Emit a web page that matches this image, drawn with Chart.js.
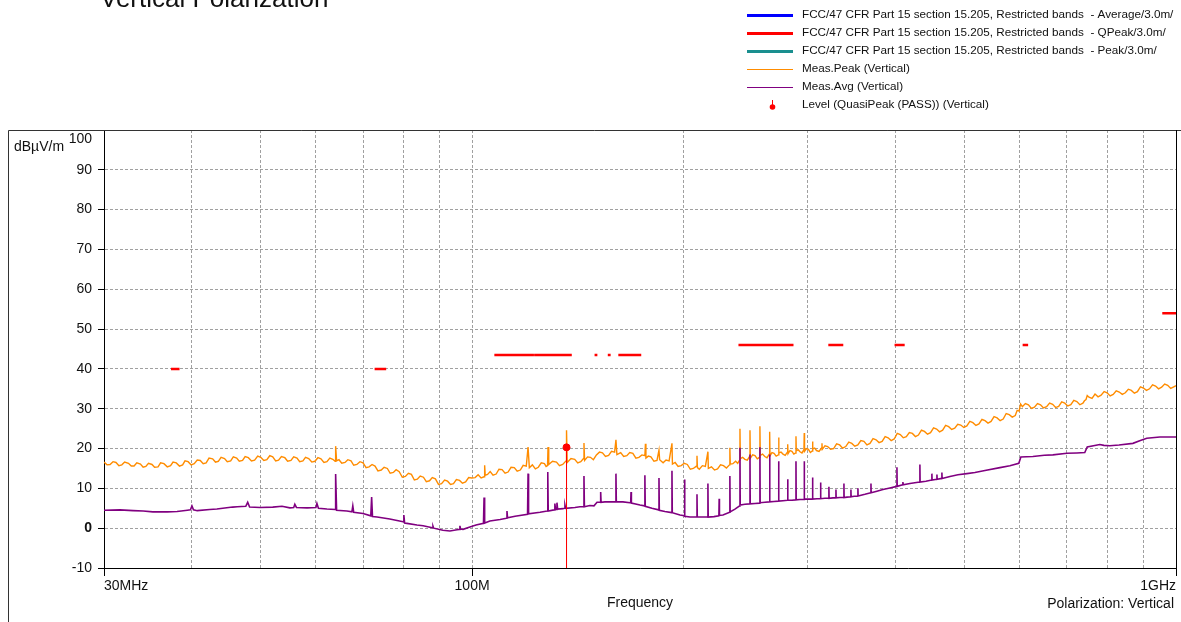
<html>

<head>
  <meta charset="utf-8">
  <style>
    html,
    body {
      margin: 0;
      padding: 0;
      background: #fff;
    }

    #wrap {
      position: relative;
      width: 1181px;
      height: 622px;
    }
  </style>
</head>

<body>
  <div id="wrap"><canvas id="emc"></canvas></div>
  <script src="https://cdn.jsdelivr.net/npm/chart.js@4.4.0/dist/chart.umd.min.js"></script>
  <script type="text/javascript">
    // FCC 15.205 restricted bands inside 30 MHz - 1 GHz, QP limit @3m
    const bandStart = [37.5, 73, 74.8, 108, 123, 149.9, 156.52475, 156.7, 162.0125, 167.72, 240, 322, 399.9, 608, 960];
    const bandEnd = [38.25, 74.6, 75.2, 121.94, 138, 150.05, 156.52525, 156.9, 167.17, 173.2, 285, 335.4, 410, 614, 1000];
    const bandLimit = [40, 40, 40, 43.5, 43.5, 43.5, 43.5, 43.5, 43.5, 43.5, 46, 46, 46, 46, 54];

    const xGrid = [30, 40, 50, 60, 70, 80, 90, 100, 200, 300, 400, 500, 600, 700, 800, 900, 1000];
    const xLabels = { 30: '30MHz', 100: '100M', 1000: '1GHz' };
    const yMin = -10, yMax = 100, yStep = 10;

    // [MHz, dBµV/m]
    const peakTrace = [
      [30, 16.6], [30.3, 15.9], [30.6, 16.0], [30.9, 16.7], [31.2, 16.5], [31.5, 15.7], [31.8, 15.9], [32.1, 16.6],
      [32.5, 16.3], [32.8, 15.6], [33.1, 15.6], [33.4, 16.4], [33.8, 16.1], [34.1, 15.3], [34.4, 15.5], [34.7, 16.3],
      [35.1, 16.0], [35.4, 15.3], [35.8, 15.4], [36.1, 16.4], [36.5, 16.2], [36.9, 15.4], [37.3, 15.7], [37.6, 16.6],
      [38.0, 16.4], [38.4, 15.6], [38.8, 15.9], [39.1, 16.9], [39.5, 16.7], [39.9, 15.9], [40.3, 16.2], [40.7, 17.1],
      [41.1, 17.0], [41.5, 16.2], [41.9, 16.4], [42.3, 17.6], [42.8, 17.4], [43.2, 16.6], [43.6, 16.8], [44.0, 17.8],
      [44.5, 17.5], [44.9, 16.7], [45.4, 16.9], [45.8, 17.9], [46.3, 17.6], [46.7, 16.8], [47.2, 17.0], [47.6, 18.0],
      [48.1, 17.7], [48.6, 16.9], [49.1, 17.1], [49.6, 18.1], [50.1, 17.8], [50.6, 17.0], [51.1, 17.2], [51.6, 18.2],
      [52.1, 17.9], [52.6, 16.9], [53.1, 17.1], [53.6, 18.0], [54.2, 17.7], [54.7, 16.8], [55.3, 17.0], [55.8, 17.9],
      [56.4, 17.6], [56.9, 16.7], [57.5, 16.9], [58.0, 17.8], [58.6, 17.5], [59.2, 16.6], [59.8, 16.8], [60.4, 17.7],
      [61.0, 17.4], [61.6, 16.5], [62.2, 16.7], [62.8, 17.6], [63.4, 17.3], [63.9, 16.8], [64.0, 20.6], [64.2, 16.9],
      [64.7, 17.2], [65.3, 16.3], [66.0, 16.5], [66.6, 17.2], [67.3, 16.9], [67.9, 15.8], [68.6, 16.0], [69.3, 16.7],
      [70.0, 16.4], [70.7, 15.2], [71.4, 15.4], [72.1, 16.0], [72.8, 15.6], [73.5, 14.4], [74.3, 14.6], [75.0, 15.3],
      [75.8, 15.0], [76.5, 13.8], [77.3, 14.0], [78.0, 14.7], [78.8, 14.2], [79.6, 12.8], [80.4, 13.0], [81.2, 13.8],
      [82.0, 13.5], [82.8, 12.1], [83.6, 12.3], [84.4, 13.1], [85.3, 12.8], [86.1, 11.7], [87.0, 11.9], [87.8, 12.7],
      [88.7, 12.4], [89.6, 11.0], [90.5, 11.2], [91.4, 12.1], [92.3, 11.8], [93.2, 11.0], [94.1, 11.2], [95.0, 12.2],
      [96.0, 12.0], [96.9, 11.3], [97.9, 11.6], [98.9, 12.7], [99.9, 12.6], [101.0, 12.7], [102.0, 13.4], [103.0, 12.6],
      [104.0, 12.9], [104.2, 15.8], [104.4, 13.3], [105.2, 13.5], [106.1, 14.2], [107.1, 13.3], [108.2, 13.6], [109.2, 14.8],
      [110.3, 14.7], [111.4, 13.8], [112.5, 14.1], [113.6, 15.3], [114.8, 15.2], [115.9, 14.3], [117.1, 14.6], [118.2, 15.8],
      [119.4, 15.6], [120.1, 20.4], [120.6, 15.2], [121.8, 15.9], [123.0, 14.9], [124.2, 15.3], [125.4, 16.4], [126.7, 16.2],
      [127.4, 15.5], [128.0, 15.7], [128.2, 20.4], [128.5, 16.0], [130.1, 16.8], [131.8, 16.6], [133.1, 15.7], [134.5, 16.0],
      [136.0, 16.9], [136.2, 24.6], [136.5, 16.5], [138.2, 17.5], [139.9, 17.3], [141.3, 16.4], [142.7, 16.7], [144.0, 17.5],
      [144.2, 21.4], [144.5, 17.0], [145.9, 17.9], [147.3, 17.8], [148.7, 17.2], [150.2, 18.4], [151.7, 19.1], [153.2, 18.9],
      [154.7, 18.0], [156.3, 18.3], [157.8, 19.3], [159.4, 19.1], [160.1, 22.2], [160.6, 18.5], [162.6, 19.0], [164.2, 18.0],
      [165.9, 18.2], [167.5, 19.0], [169.2, 18.8], [170.9, 17.6], [172.6, 17.8], [174.3, 18.4], [176.0, 18.2], [176.3, 21.2],
      [176.6, 17.6], [178.0, 18.1], [179.5, 17.9], [181.3, 16.8], [183.1, 17.0], [184.3, 19.6], [184.7, 17.2], [186.8, 16.4],
      [188.6, 17.1], [190.5, 16.9], [192.3, 21.3], [192.6, 16.1], [194.3, 16.5], [196.2, 15.5], [198.2, 15.7], [200.2, 16.3],
      [202.2, 16.0], [204.2, 14.8], [206.2, 15.0], [208.4, 15.6], [208.7, 18.2], [209.0, 15.2], [210.3, 14.8], [212.4, 15.7],
      [214.5, 15.5], [216.3, 19.2], [216.6, 15.0], [218.8, 15.4], [221.0, 14.6], [223.2, 14.9], [225.4, 15.9], [227.6, 15.7],
      [229.8, 15.1], [232.1, 15.9], [232.4, 20.2], [232.7, 16.1], [234.7, 16.2], [236.8, 16.8], [238.4, 16.3], [239.9, 17.1],
      [240.2, 25.0], [240.5, 17.5], [242.3, 17.8], [244.1, 17.3], [246.0, 17.1], [247.9, 18.0], [248.2, 24.6], [248.5, 17.6],
      [250.4, 18.4], [252.3, 18.2], [254.2, 17.4], [256.1, 17.8], [256.4, 25.6], [256.7, 18.3], [258.6, 18.6], [260.5, 18.0],
      [262.4, 17.7], [264.4, 18.6], [264.7, 24.2], [265.0, 18.2], [266.7, 19.0], [268.5, 18.8], [270.4, 18.1], [272.3, 18.4],
      [272.6, 22.8], [272.9, 18.9], [274.7, 19.1], [276.5, 18.6], [278.5, 18.3], [280.5, 19.1], [280.8, 21.1], [281.1, 18.7],
      [282.9, 19.5], [284.7, 19.3], [286.5, 18.6], [288.2, 18.9], [288.5, 23.1], [288.8, 19.4], [290.5, 19.7], [292.3, 19.2],
      [294.2, 18.9], [296.1, 19.7], [296.4, 23.9], [296.7, 19.3], [298.6, 20.0], [300.5, 19.8], [302.4, 19.0], [304.3, 19.4],
      [304.6, 21.8], [304.9, 19.9], [306.7, 20.1], [308.5, 19.5], [311.1, 19.3], [313.8, 20.2], [314.1, 21.3], [314.4, 19.8],
      [317.2, 20.7], [320.0, 20.5], [323.1, 19.8], [326.3, 20.0], [329.5, 21.2], [332.8, 20.9], [336.1, 20.1], [339.5, 20.5],
      [342.9, 21.6], [346.3, 21.3], [349.7, 20.6], [353.2, 20.9], [356.7, 22.0], [360.3, 21.8], [363.9, 20.9], [367.5, 21.3],
      [371.2, 22.5], [374.9, 22.2], [378.6, 21.5], [382.4, 21.8], [386.2, 23.0], [390.0, 22.7], [393.9, 22.0], [397.8, 22.4],
      [401.8, 23.8], [405.8, 23.5], [409.8, 22.7], [413.9, 23.0], [418.0, 24.0], [422.2, 23.8], [426.4, 23.0], [430.6, 23.4],
      [434.9, 24.6], [439.2, 24.3], [443.6, 23.6], [448.0, 24.0], [452.5, 25.2], [457.0, 24.9], [461.5, 24.2], [466.1, 24.6],
      [470.7, 25.8], [475.4, 25.5], [480.1, 24.8], [484.9, 25.1], [489.7, 26.1], [494.6, 25.9], [499.5, 25.3], [504.5, 25.7],
      [509.5, 26.8], [514.6, 26.5], [519.7, 25.8], [524.9, 26.2], [530.1, 27.3], [535.4, 27.0], [540.7, 26.4], [546.1, 26.8],
      [551.5, 28.0], [557.0, 27.7], [562.6, 27.0], [568.2, 27.4], [573.8, 28.8], [579.5, 28.5], [585.3, 27.9], [591.1, 28.3],
      [594.8, 29.6], [598.5, 29.4], [601.5, 31.2], [605.0, 30.5], [611.0, 31.3], [617.1, 31.0], [623.2, 30.1], [629.4, 30.4],
      [635.7, 31.3], [642.0, 31.0], [648.4, 30.2], [654.9, 30.5], [661.4, 31.4], [668.0, 31.1], [674.6, 30.3], [681.3, 30.6],
      [688.1, 31.7], [695.0, 31.4], [701.9, 30.7], [708.9, 31.0], [715.9, 32.1], [723.0, 31.8], [730.2, 31.0], [737.5, 31.4],
      [741.2, 32.0], [745.0, 32.3], [748.0, 33.3], [752.3, 32.9], [759.8, 32.6], [767.3, 33.7], [775.0, 33.0], [782.7, 33.4],
      [790.5, 34.3], [798.3, 34.0], [806.3, 33.2], [814.3, 33.6], [822.4, 34.5], [830.6, 34.2], [838.9, 33.6], [847.2, 34.0],
      [855.6, 34.9], [864.1, 34.6], [872.7, 33.9], [881.4, 34.3], [890.2, 35.5], [899.0, 35.2], [908.0, 34.6], [917.0, 35.0],
      [926.2, 36.0], [935.4, 35.7], [944.7, 35.0], [954.1, 35.4], [963.6, 36.2], [973.2, 35.9], [982.9, 35.1], [992.7, 35.5],
      [1000, 35.8]
    ];

    const avgTrace = [
      [30, 4.5], [31.6, 4.6], [33, 4.4], [34.1, 4.3], [35.2, 4.1], [36.9, 4.1], [38.1, 4.2], [39.4, 4.5], [39.8, 4.6],
      [40.0, 5.6], [40.2, 4.6], [40.7, 4.4], [42.4, 4.7], [43.4, 4.8], [45.7, 5.3], [46.4, 5.4], [47.7, 5.5], [48.0, 6.5],
      [48.3, 5.3], [50, 5.2], [52.1, 5.3], [53.7, 5.5], [55.1, 5.1], [55.8, 5.2], [56.0, 6.0], [56.3, 5.2], [58.3, 5.1],
      [60.0, 5.2], [60.2, 6.2], [60.5, 5.0], [62.2, 4.8], [63.9, 4.7], [64.0, 13.6], [64.2, 4.5], [66.4, 4.3], [67.5, 4.1],
      [67.7, 5.6], [67.9, 4.0], [70, 3.7], [71.8, 3.1], [72.0, 7.8], [72.2, 2.9], [73.3, 2.8], [76.4, 2.3], [79.8, 1.6],
      [80.0, 3.3], [80.2, 1.3], [80.8, 1.2], [83.5, 0.8], [85.2, 0.6], [87.8, 0.1], [88.0, 0.5], [88.2, 0.0], [90.9, -0.5],
      [93, -0.7], [95.2, -0.4], [95.9, -0.3], [96.1, 0.6], [96.3, -0.2], [97.1, -0.3], [99.3, 0.3], [101.3, 0.8], [103.8, 1.2],
      [104.0, 7.7], [104.2, 1.3], [106, 1.8], [109.6, 2.2], [111.9, 2.5], [112.1, 4.3], [112.3, 2.6], [115.1, 3.0], [119.9, 3.5],
      [120.1, 13.7], [120.3, 3.6], [124.9, 4.0], [127.9, 4.3], [128.1, 14.1], [128.3, 4.3], [130.8, 4.6], [131.1, 6.2],
      [131.4, 4.7], [131.8, 4.7], [132.0, 6.4], [132.3, 4.8], [134.6, 4.9], [135.3, 5.0], [135.5, 5.8], [135.8, 5.0], [140, 5.2],
      [142.3, 5.4], [144.0, 5.4], [144.2, 13.1], [144.4, 5.4], [147, 5.7], [149.0, 5.6], [150.5, 6.5], [152.1, 6.5], [152.3, 9.1],
      [152.5, 6.5], [154.4, 6.6], [158.5, 6.6], [159.9, 6.6], [160.1, 13.7], [160.3, 6.6], [163.8, 6.6], [167.6, 6.4],
      [168.0, 6.4], [168.2, 9.1], [168.4, 6.3], [173.2, 5.8], [175.8, 5.6], [176.0, 13.3], [176.2, 5.5], [180.1, 5.0],
      [184.1, 4.6], [184.3, 12.6], [184.5, 4.5], [187.9, 4.2], [192.1, 3.9], [192.3, 14.4], [192.5, 3.9], [197.4, 3.3],
      [200.2, 3.1], [200.4, 12.2], [200.6, 3.0], [204, 2.8], [208.5, 2.8], [208.7, 8.5], [208.9, 2.8], [215.6, 2.8],
      [216.1, 2.8], [216.3, 11.2], [216.5, 2.8], [220.6, 2.9], [224.2, 3.1], [224.4, 7.4], [224.6, 3.2], [227.2, 3.3],
      [232.2, 4.0], [232.4, 13.1], [232.6, 4.1], [236.3, 4.8], [240.0, 5.6], [240.2, 20.2], [240.4, 5.8], [244.1, 6.0],
      [248.0, 6.1], [248.2, 18.5], [248.4, 6.1], [252.3, 6.2], [256.2, 6.3], [256.4, 20.3], [256.6, 6.4], [260.7, 6.5],
      [264.5, 6.6], [264.7, 18.5], [264.9, 6.6], [268.5, 6.7], [272.4, 6.8], [272.6, 16.8], [272.8, 6.8], [276.5, 6.9],
      [280.6, 7.0], [280.8, 12.3], [281.0, 7.0], [284.7, 7.0], [288.3, 7.1], [288.5, 16.8], [288.7, 7.1], [292.3, 7.2],
      [296.2, 7.2], [296.4, 16.8], [296.6, 7.3], [300, 7.3], [304.4, 7.3], [304.6, 12.7], [304.8, 7.3], [309, 7.4],
      [312.5, 7.4], [312.7, 11.5], [312.9, 7.4], [317.1, 7.5], [321.1, 7.5], [321.3, 10.4], [321.5, 7.5], [325.6, 7.6],
      [328.6, 7.6], [328.8, 9.7], [329.0, 7.6], [333.1, 7.7], [337.3, 7.7], [337.5, 11.2], [337.7, 7.7], [341, 7.8],
      [345.1, 7.9], [345.3, 9.7], [345.5, 7.9], [349, 8.0], [353.1, 8.1], [353.3, 10.0], [353.5, 8.1], [361.5, 8.5],
      [368.5, 8.9], [368.7, 11.2], [368.9, 8.9], [375.9, 9.3], [383.4, 9.7], [392.3, 10.1], [401.1, 10.5], [401.4, 15.3],
      [401.7, 10.5], [409.0, 10.9], [409.3, 11.6], [409.6, 10.9], [418.8, 11.2], [432.4, 11.6], [432.7, 16.0], [433.0, 11.6],
      [441.3, 11.8], [449.7, 12.1], [450.0, 13.7], [450.3, 12.1], [457.2, 12.3], [457.5, 13.5], [457.8, 12.3], [464.7, 12.5],
      [465.0, 14.0], [465.3, 12.5], [477.4, 13.0], [490, 13.4], [504.6, 13.7], [518, 14.0], [535.3, 14.5], [562.2, 15.2],
      [580.8, 15.7], [598, 16.3], [602, 17.9], [626.1, 18.0], [650, 18.3], [668.5, 18.4], [700, 18.8], [723, 18.9],
      [742, 19.0], [748, 20.4], [779.4, 21.0], [790, 20.8], [805.4, 20.7], [830, 20.9], [868.5, 21.3], [890, 22.0],
      [908.9, 22.6], [948.7, 22.9], [1000, 22.9]
    ];

    const qpFreq = [136.2];
    const qpLevel = [20.3];

    const FONT = 'Arial, "Liberation Sans", sans-serif';
    const gridColor = 'rgba(120,120,120,0.7)';

    Chart.defaults.font.family = FONT;
    Chart.defaults.color = '#111';

    // limit line pieces with gaps between bands
    const limitData = [];
    bandStart.forEach((f, i) => {
      limitData.push({ x: f, y: bandLimit[i] }, { x: bandEnd[i], y: bandLimit[i] }, { x: bandEnd[i], y: null });
    });

    const qpData = [];
    qpFreq.forEach((f, i) => {
      qpData.push({ x: f, y: qpLevel[i] }, { x: f, y: yMin }, { x: f, y: null });
    });

    const toXY = arr => arr.map(p => ({ x: p[0], y: p[1] }));
    const limName = 'FCC/47 CFR Part 15 section 15.205, Restricted bands  - ';

    const decor = {
      id: 'decor',
      afterDraw(chart) {
        const { ctx, chartArea: a, scales } = chart;
        ctx.save();
        // outer frame and plot border
        ctx.lineWidth = 1;
        ctx.strokeStyle = '#333';
        ctx.beginPath();
        ctx.moveTo(8.5, 622);
        ctx.lineTo(8.5, a.top + 0.5);
        ctx.lineTo(1181, a.top + 0.5);
        ctx.stroke();
        ctx.strokeStyle = '#000';
        ctx.beginPath();
        ctx.moveTo(a.right + 0.5, a.top);
        ctx.lineTo(a.right + 0.5, a.bottom);
        ctx.stroke();

        ctx.fillStyle = '#111';
        ctx.textBaseline = 'alphabetic';
        ctx.font = '26px ' + FONT;
        ctx.fillText('Vertical Polarization', 100, 7);

        ctx.font = '14px ' + FONT;
        ctx.textBaseline = 'middle';
        ctx.fillText('dBµV/m', 14, 147);
        ctx.textAlign = 'right';
        ctx.fillText(String(yMax), a.left - 12, scales.y.getPixelForValue(yMax) + 9);
        ctx.fillText('Polarization: Vertical', a.right - 2, 604);

        // legend, one row per dataset
        ctx.textAlign = 'left';
        ctx.font = '11.7px ' + FONT;
        chart.data.datasets.forEach((ds, i) => {
          const y = 15 + 18 * i;
          ctx.strokeStyle = ds.borderColor;
          ctx.fillStyle = ds.borderColor;
          if (ds.legendMarker) {
            ctx.lineWidth = 1;
            ctx.beginPath();
            ctx.moveTo(772.5, y - 5);
            ctx.lineTo(772.5, y + 2);
            ctx.stroke();
            ctx.beginPath();
            ctx.arc(772.5, y + 2, 2.8, 0, Math.PI * 2);
            ctx.fill();
          } else {
            ctx.lineWidth = ds.legendWidth;
            ctx.beginPath();
            ctx.moveTo(747, y + 0.5);
            ctx.lineTo(793, y + 0.5);
            ctx.stroke();
          }
          ctx.fillStyle = '#111';
          ctx.fillText(ds.label, 802, y);
        });
        ctx.restore();
      }
    };

    new Chart(document.getElementById('emc'), {
      type: 'line',
      data: {
        datasets: [
          {
            label: limName + 'Average/3.0m/', data: [], borderColor: '#0000ff', legendWidth: 3,
            borderWidth: 3, pointRadius: 0
          },
          {
            label: limName + 'QPeak/3.0m/', data: limitData, borderColor: '#ff0000', legendWidth: 3,
            borderWidth: 2.5, pointRadius: 0, spanGaps: false, borderCapStyle: 'square'
          },
          {
            label: limName + 'Peak/3.0m/', data: [], borderColor: '#1a8f8f', legendWidth: 3,
            borderWidth: 3, pointRadius: 0
          },
          {
            label: 'Meas.Peak (Vertical)', data: toXY(peakTrace), borderColor: '#ff8c00', legendWidth: 1,
            borderWidth: 1.4, pointRadius: 0, order: 2
          },
          {
            label: 'Meas.Avg (Vertical)', data: toXY(avgTrace), borderColor: '#800080', legendWidth: 1,
            borderWidth: 1.6, pointRadius: 0, order: 1
          },
          {
            label: 'Level (QuasiPeak (PASS)) (Vertical)', data: qpData, borderColor: '#ff0000',
            backgroundColor: '#ff0000', legendMarker: true, borderWidth: 1, spanGaps: false,
            pointRadius: c => (c.dataIndex % 3 === 0 ? 3.5 : 0), pointStyle: 'circle', order: -1
          }
        ]
      },
      options: {
        responsive: true,
        maintainAspectRatio: false,
        animation: false,
        layout: { padding: { left: 8, top: 130, right: 5, bottom: 0 } },
        plugins: {
          legend: { display: false },
          tooltip: { enabled: false }
        },
        elements: { line: { tension: 0, fill: false } },
        scales: {
          x: {
            type: 'logarithmic',
            min: xGrid[0],
            max: xGrid[xGrid.length - 1],
            afterBuildTicks: s => { s.ticks = xGrid.map(v => ({ value: v })); },
            afterFit: s => { s.height = 54; },
            ticks: {
              autoSkip: false,
              maxRotation: 0,
              align: 'inner',
              padding: 2,
              font: { size: 14 },
              callback: v => xLabels[v] || ''
            },
            grid: {
              color: gridColor,
              tickLength: 8,
              tickColor: c => (c.tick && xLabels[c.tick.value]) ? '#000' : 'rgba(0,0,0,0)',
              tickBorderDash: []
            },
            border: { color: '#000', dash: [3, 2] },
            title: { display: true, text: 'Frequency', font: { size: 14 }, padding: { top: 0, bottom: 10 } }
          },
          y: {
            min: yMin,
            max: yMax,
            afterFit: s => { s.width = 96; },
            ticks: {
              stepSize: yStep,
              padding: 6,
              font: c => ({ size: 14, weight: (c.tick && c.tick.value === 0) ? 'bold' : 'normal' }),
              callback: v => (v === yMax ? '' : v)
            },
            grid: {
              color: gridColor,
              tickLength: 6,
              tickColor: c => (c.tick && c.tick.value === yMax) ? 'rgba(0,0,0,0)' : '#000',
              tickBorderDash: []
            },
            border: { color: '#000', dash: [3, 2] }
          }
        }
      },
      plugins: [decor]
    });
  </script>
</body>

</html>
